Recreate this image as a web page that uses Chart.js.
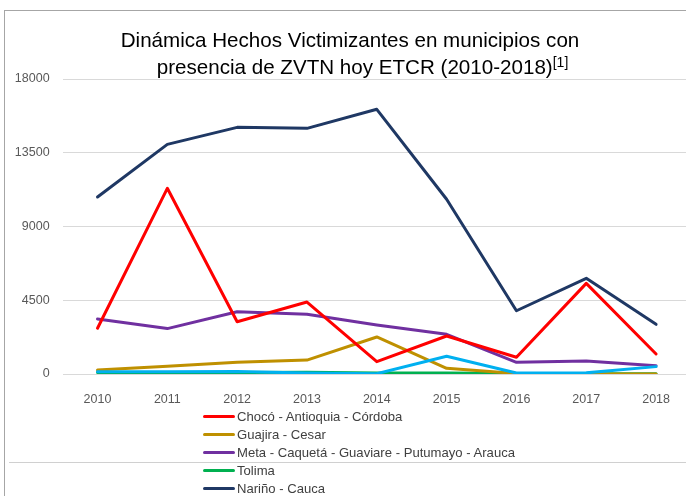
<!DOCTYPE html>
<html>
<head>
<meta charset="utf-8">
<script src="https://cdn.jsdelivr.net/npm/chart.js@4.4.1/dist/chart.umd.min.js"></script>
<style>
  html, body { margin: 0; padding: 0; width: 686px; height: 496px; overflow: hidden; background: #fff; }
  #wrap { position: relative; width: 686px; height: 496px; overflow: hidden; }
  #frameTop { position: absolute; left: 4px; top: 10px; width: 700px; height: 1px; background: #a6a6a6; }
  #frameLeft { position: absolute; left: 4px; top: 10px; width: 1px; height: 500px; background: #a6a6a6; }
  #frameMid { position: absolute; left: 9px; top: 462px; width: 700px; height: 1px; background: #d0d0d0; }
  #chartBox { position: absolute; left: 0; top: 0; width: 700px; height: 496px; }
  #title { position: absolute; left: 0; top: 26px; width: 700px; text-align: center;
           font-family: "Liberation Sans", Arial, sans-serif; font-size: 20.6px; line-height: 27px; color: #000; }
  #title .l2 { padding-left: 25px; }
  #title sup { font-size: 14px; vertical-align: 7px; line-height: 0; }
  #legend { position: absolute; left: 203px; top: 407px; font-family: "Liberation Sans", Arial, sans-serif;
            font-size: 13.1px; color: #404040; }
  .li { height: 18px; display: flex; align-items: center; }
  .sw { width: 32px; height: 3px; border-radius: 2px; margin-right: 2px; }
</style>
</head>
<body>
<div id="wrap">
  <div id="chartBox"><canvas id="c" width="700" height="496"></canvas></div>
  <div id="frameTop"></div>
  <div id="frameLeft"></div>
  <div id="frameMid"></div>
  <div id="title">Dinámica Hechos Victimizantes en municipios con<br><span class="l2">presencia de ZVTN hoy ETCR (2010-2018)<sup>[1]</sup></span></div>
  <div id="legend"></div>
</div>
<script>
const years = ["2010","2011","2012","2013","2014","2015","2016","2017","2018"];
const yTicks = [0, 4500, 9000, 13500, 18000];

const chocoName = "Chocó - Antioquia - Córdoba";
const chocoValues = [2790, 11330, 3190, 4390, 750, 2320, 1020, 5530, 1220];

const guajiraName = "Guajira - Cesar";
const guajiraValues = [240, 470, 710, 850, 2260, 350, 30, 0, 0];

const metaName = "Meta - Caquetá - Guaviare - Putumayo - Arauca";
const metaValues = [3360, 2770, 3800, 3640, 2990, 2420, 710, 790, 510];

const tolimaName = "Tolima";
const tolimaValues = [90, 80, 90, 100, 60, 60, 30, 20, 20];

const narinoName = "Nariño - Cauca";
const narinoValues = [10800, 14010, 15050, 14990, 16150, 10660, 3860, 5840, 3030];

const otherName = "";
const otherValues = [140, 130, 150, 60, 20, 1080, 60, 70, 450];

const series = [
  { name: chocoName, data: chocoValues, color: "#FF0000", legend: true, order: 3 },
  { name: guajiraName, data: guajiraValues, color: "#BF9000", legend: true, order: 4 },
  { name: metaName, data: metaValues, color: "#7030A0", legend: true, order: 5 },
  { name: tolimaName, data: tolimaValues, color: "#00B050", legend: true, order: 6 },
  { name: narinoName, data: narinoValues, color: "#1F3864", legend: true, order: 1 },
  { name: otherName, data: otherValues, color: "#00B0F0", legend: false, order: 2 }
];

const leg = document.getElementById('legend');
series.filter(s => s.legend).forEach(s => {
  const row = document.createElement('div');
  row.className = 'li';
  const sw = document.createElement('div');
  sw.className = 'sw';
  sw.style.background = s.color;
  const t = document.createElement('span');
  t.textContent = s.name;
  row.appendChild(sw); row.appendChild(t);
  leg.appendChild(row);
});

new Chart(document.getElementById('c'), {
  type: 'line',
  data: {
    labels: years,
    datasets: series.map(s => ({
      label: s.name,
      data: s.data,
      borderColor: s.color,
      backgroundColor: s.color,
      borderWidth: 3,
      pointRadius: 0,
      tension: 0,
      fill: false,
      order: s.order,
      borderJoinStyle: 'round',
      borderCapStyle: 'round'
    }))
  },
  options: {
    responsive: false,
    animation: false,
    devicePixelRatio: 1,
    layout: { padding: { left: 0, right: 9, top: 79, bottom: 92 } },
    plugins: { legend: { display: false }, title: { display: false }, tooltip: { enabled: false } },
    scales: {
      x: {
        offset: true,
        grid: { display: false },
        border: { display: false },
        ticks: { color: '#595959', font: { family: 'Liberation Sans', size: 12.5 }, padding: 10, maxRotation: 0 },
        afterFit: (scale) => { scale.height = 30; }
      },
      y: {
        min: 0, max: 18000,
        afterBuildTicks: (scale) => { scale.ticks = yTicks.map(v => ({ value: v })); },
        grid: { color: '#d9d9d9', lineWidth: 1, drawTicks: false },
        border: { display: false },
        ticks: { color: '#595959', font: { family: 'Liberation Sans', size: 12.5 }, padding: 13,
                 callback: (v) => String(v) },
        afterFit: (scale) => { scale.width = 62.6; }
      }
    }
  }
});
</script>
</body>
</html>
